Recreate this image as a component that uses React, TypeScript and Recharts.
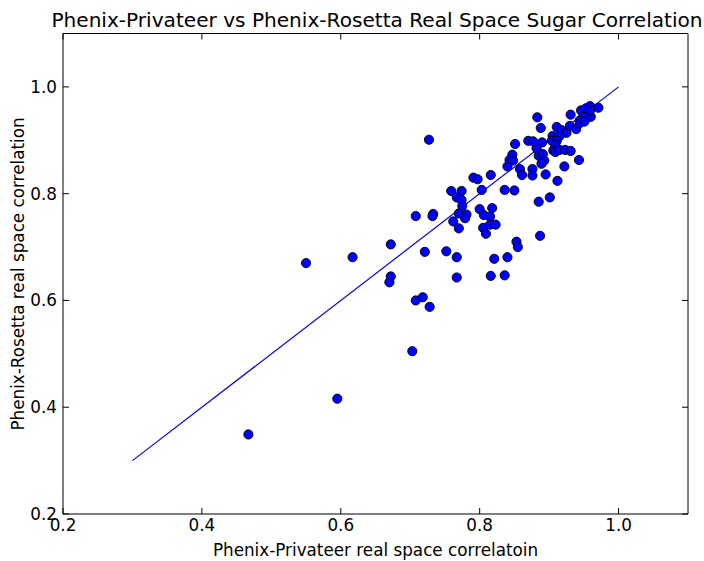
import React from 'react';
import { ScatterChart, Scatter, XAxis, YAxis } from 'recharts';

// Phenix-Privateer correlation (x) vs Phenix-Rosetta correlation (y), one entry per residue
const PRIVATEER = [
  0.727, 0.883, 0.931, 0.888, 0.911, 0.918, 0.925, 0.930, 0.946, 0.953,
  0.959, 0.971, 0.960, 0.959, 0.949, 0.944, 0.939, 0.944, 0.951, 0.905,
  0.915, 0.904, 0.911, 0.909, 0.906, 0.909, 0.915, 0.923, 0.931, 0.943,
  0.922, 0.912, 0.901, 0.885, 0.887, 0.870, 0.877, 0.890, 0.882, 0.885,
  0.891, 0.893, 0.889, 0.895, 0.876, 0.876, 0.851, 0.847, 0.843, 0.848,
  0.840, 0.858, 0.861, 0.836, 0.850, 0.816, 0.791, 0.797, 0.803, 0.759,
  0.774, 0.767, 0.774, 0.775, 0.770, 0.781, 0.779, 0.762, 0.770, 0.708,
  0.733, 0.732, 0.800, 0.818, 0.806, 0.815, 0.805, 0.815, 0.823, 0.809,
  0.853, 0.855, 0.840, 0.821, 0.836, 0.816, 0.767, 0.752, 0.721, 0.767,
  0.672, 0.672, 0.670, 0.550, 0.617, 0.708, 0.718, 0.728, 0.703, 0.595,
  0.467,
];
const ROSETTA = [
  0.901, 0.943, 0.948, 0.923, 0.925, 0.919, 0.914, 0.927, 0.956, 0.960,
  0.964, 0.961, 0.944, 0.956, 0.944, 0.937, 0.921, 0.932, 0.935, 0.908,
  0.908, 0.899, 0.899, 0.891, 0.881, 0.878, 0.882, 0.882, 0.880, 0.863,
  0.851, 0.824, 0.793, 0.785, 0.721, 0.899, 0.898, 0.896, 0.885, 0.871,
  0.874, 0.862, 0.856, 0.836, 0.846, 0.834, 0.893, 0.873, 0.863, 0.862,
  0.851, 0.846, 0.835, 0.807, 0.806, 0.835, 0.830, 0.827, 0.807, 0.805,
  0.805, 0.793, 0.788, 0.777, 0.763, 0.761, 0.754, 0.748, 0.735, 0.758,
  0.762, 0.758, 0.771, 0.773, 0.760, 0.757, 0.736, 0.742, 0.742, 0.725,
  0.710, 0.700, 0.681, 0.678, 0.647, 0.646, 0.681, 0.692, 0.691, 0.643,
  0.705, 0.645, 0.634, 0.670, 0.681, 0.600, 0.606, 0.588, 0.505, 0.416,
  0.349,
];

// y = x reference line
const IDENTITY_X = [0.3, 1.0];
const IDENTITY_Y = [0.3, 1.0];

const TICKS = [0.2, 0.4, 0.6, 0.8, 1.0];
const DOMAIN: [number, number] = [0.2, 1.1];

const points = PRIVATEER.map((x, i) => ({ x, y: ROSETTA[i] }));
const identity = IDENTITY_X.map((x, i) => ({ x, y: IDENTITY_Y[i] }));

const TICK_LEN = 6;
const FONT = '"DejaVu Sans", sans-serif';
const LABEL_SIZE = 16.8;

const BottomTick = ({ x, y, payload }: any) => (
  <g>
    <line x1={x} y1={y} x2={x} y2={y - TICK_LEN} stroke="#000" strokeWidth={1} />
    <text x={x} y={y + 4} dy="0.76em" textAnchor="middle" fontSize={LABEL_SIZE} fill="#000" fontFamily={FONT}>
      {payload.value.toFixed(1)}
    </text>
  </g>
);

const LeftTick = ({ x, y, payload }: any) => (
  <g>
    <line x1={x} y1={y} x2={x + TICK_LEN} y2={y} stroke="#000" strokeWidth={1} />
    <text x={x - 6} y={y} dy="0.36em" textAnchor="end" fontSize={LABEL_SIZE} fill="#000" fontFamily={FONT}>
      {payload.value.toFixed(1)}
    </text>
  </g>
);

const TopTick = ({ x, y }: any) => (
  <line x1={x} y1={y} x2={x} y2={y + TICK_LEN} stroke="#000" strokeWidth={1} />
);

const RightTick = ({ x, y }: any) => (
  <line x1={x} y1={y} x2={x - TICK_LEN} y2={y} stroke="#000" strokeWidth={1} />
);

const Dot = (p: any) => (
  <circle cx={p.cx} cy={p.cy} r={4.6} fill="#0000ff" stroke="#000" strokeWidth={0.9} />
);

export default function App() {
  return (
    <div style={{ position: 'absolute', left: 0, top: 0, width: 704, height: 561, background: '#fff', fontFamily: FONT }}>
      <div
        style={{
          position: 'absolute',
          left: 0,
          width: 754,
          top: 8,
          textAlign: 'center',
          fontSize: 20.1,
          color: '#000',
          whiteSpace: 'nowrap',
        }}
      >
        Phenix-Privateer vs Phenix-Rosetta Real Space Sugar Correlation
      </div>
      <ScatterChart width={704} height={561} margin={{ top: 32.5, right: 15, bottom: 0, left: 0 }}>
        <XAxis
          type="number"
          dataKey="x"
          domain={DOMAIN}
          ticks={TICKS}
          allowDataOverflow
          height={47}
          tickSize={0}
          tickMargin={0}
          tick={<BottomTick />}
          axisLine={{ stroke: '#000', strokeWidth: 1 }}
          interval={0}
        />
        <XAxis
          xAxisId="top"
          orientation="top"
          type="number"
          dataKey="x"
          domain={DOMAIN}
          ticks={TICKS}
          allowDataOverflow
          height={1}
          tickSize={0}
          tickMargin={0}
          tick={<TopTick />}
          axisLine={{ stroke: '#000', strokeWidth: 1 }}
          interval={0}
        />
        <YAxis
          type="number"
          dataKey="y"
          domain={DOMAIN}
          ticks={TICKS}
          allowDataOverflow
          width={63}
          tickSize={0}
          tickMargin={0}
          tick={<LeftTick />}
          axisLine={{ stroke: '#000', strokeWidth: 1 }}
          interval={0}
        />
        <YAxis
          yAxisId="right"
          orientation="right"
          type="number"
          dataKey="y"
          domain={DOMAIN}
          ticks={TICKS}
          allowDataOverflow
          width={1}
          tickSize={0}
          tickMargin={0}
          tick={<RightTick />}
          axisLine={{ stroke: '#000', strokeWidth: 1 }}
          interval={0}
        />
        <Scatter
          data={identity}
          xAxisId="top"
          yAxisId="right"
          line={{ stroke: '#0000ff', strokeWidth: 1.2 }}
          shape={() => null}
          isAnimationActive={false}
        />
        <Scatter data={points} shape={<Dot />} isAnimationActive={false} />
      </ScatterChart>
      <div
        style={{
          position: 'absolute',
          left: 63,
          width: 625,
          top: 540,
          textAlign: 'center',
          fontSize: LABEL_SIZE,
          color: '#000',
          whiteSpace: 'nowrap',
        }}
      >
        Phenix-Privateer real space correlatoin
      </div>
      <div
        style={{
          position: 'absolute',
          left: 18,
          top: 274,
          transform: 'translate(-50%, -50%) rotate(-90deg)',
          fontSize: LABEL_SIZE,
          color: '#000',
          whiteSpace: 'nowrap',
        }}
      >
        Phenix-Rosetta real space correlation
      </div>
    </div>
  );
}
